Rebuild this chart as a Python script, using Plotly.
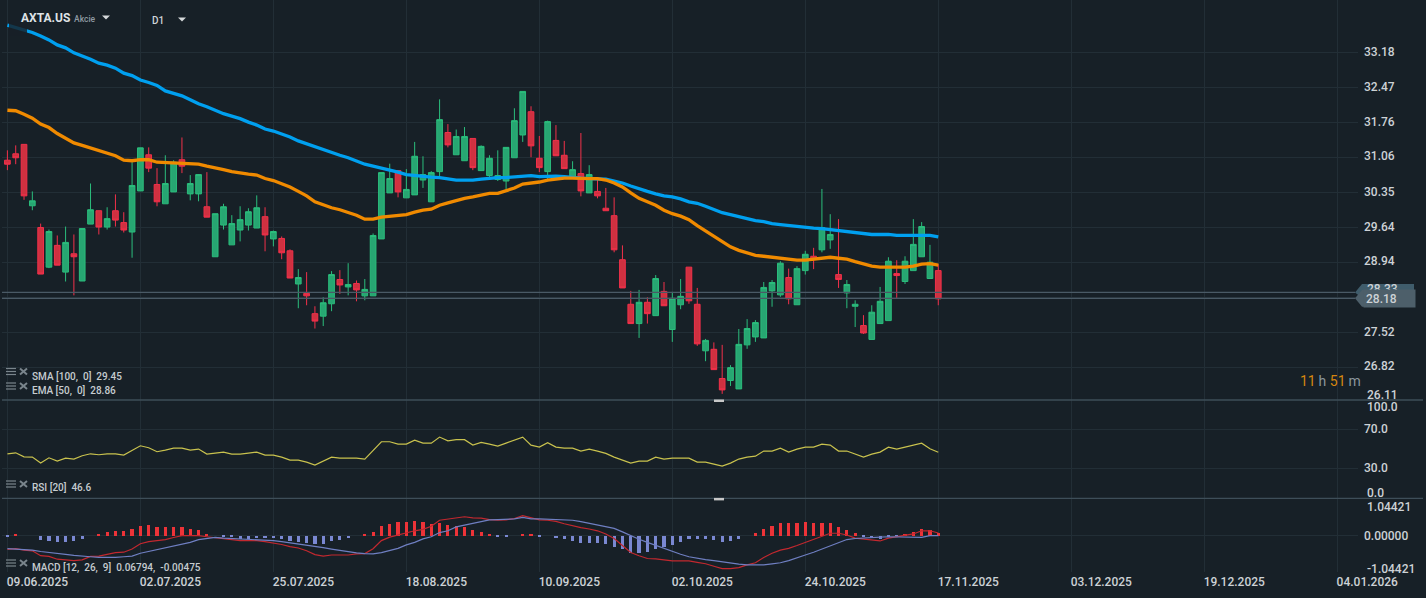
import plotly.graph_objects as go

# ---- data ----
OPEN = [31.00,31.13,31.32,30.08,29.64,28.84,29.28,28.74,29.11,28.56,
29.71,29.98,29.65,29.98,29.74,29.55,30.38,31.11,30.51,30.12,
30.36,31.01,30.32,30.32,30.06,29.05,29.69,29.29,29.59,29.69,
29.63,29.86,29.41,29.42,29.17,28.50,28.31,27.90,27.85,28.10,
28.59,28.44,28.51,28.26,28.26,29.41,30.34,30.79,30.24,30.30,
30.60,30.16,30.77,31.56,31.11,30.99,31.44,30.79,30.69,30.61,
30.58,31.05,31.51,31.98,31.04,30.77,31.40,31.10,30.65,30.73,
30.34,30.37,30.03,29.88,28.99,28.09,27.70,28.13,27.86,28.35,
27.58,28.08,28.84,28.09,27.15,27.18,26.59,26.55,26.38,27.27,
27.43,27.41,28.36,28.28,28.63,28.08,28.77,29.06,29.19,29.39,
28.69,28.32,28.05,27.66,27.38,27.70,27.76,28.71,28.55,28.77,
29.05,28.61,28.77]
HIGH = [31.20,31.30,31.32,30.37,29.72,29.60,29.48,29.66,29.50,29.62,
30.53,29.98,30.05,30.31,29.95,30.96,31.25,31.26,30.84,31.10,
31.00,31.46,30.70,30.72,30.76,29.92,30.12,29.89,30.07,30.03,
30.29,30.05,29.58,29.46,29.20,28.80,28.74,28.05,28.23,28.76,
28.78,28.92,28.57,28.60,29.52,30.75,30.93,30.80,30.82,31.37,
31.08,30.78,32.23,31.73,31.62,31.67,31.44,31.30,31.10,31.20,
31.26,32.05,32.39,32.09,31.49,31.80,31.71,31.39,30.98,31.55,
30.90,30.64,30.44,30.25,29.28,28.36,28.38,28.23,28.68,28.54,
28.34,28.60,28.84,28.42,27.39,27.32,27.27,26.86,27.59,27.79,
27.77,28.54,28.58,28.96,28.81,28.86,29.17,29.23,30.42,29.91,
29.81,28.58,28.17,27.87,28.07,28.44,29.04,28.98,29.06,29.81,
29.75,29.29,28.90]
LOW = [30.80,30.92,30.20,29.99,28.70,28.82,28.88,28.55,28.27,28.56,
29.71,29.50,29.60,29.66,29.54,29.03,30.38,30.76,30.07,30.12,
30.36,30.74,30.19,30.17,29.85,29.05,29.60,29.29,29.36,29.58,
29.63,29.16,29.26,29.00,28.62,28.01,28.07,27.60,27.65,27.95,
28.30,28.27,28.15,28.17,28.26,29.41,30.34,30.25,30.24,30.30,
30.44,30.16,30.68,31.26,31.11,30.99,30.80,30.79,30.60,30.58,
30.41,31.05,31.37,31.06,30.76,30.62,31.09,30.83,30.63,30.27,
30.34,30.23,29.98,29.14,28.42,27.70,27.41,27.70,27.86,28.06,
27.33,27.99,28.10,27.25,26.94,26.77,26.28,26.44,26.38,27.19,
27.33,27.41,28.04,28.24,28.09,28.08,28.69,28.80,29.14,29.21,
28.42,28.01,27.63,27.49,27.38,27.70,27.76,28.22,28.50,28.77,
29.05,28.61,28.07]
CLOSE = [30.92,31.05,30.28,30.18,28.70,29.56,28.88,29.34,29.05,29.62,
30.00,29.65,29.82,29.79,29.59,30.49,31.25,30.84,30.16,30.53,
30.96,30.88,30.53,30.71,29.85,29.92,30.06,29.72,29.80,29.96,
30.04,29.49,29.56,29.13,28.62,28.63,28.26,27.75,28.12,28.69,
28.48,28.49,28.38,28.39,29.48,30.75,30.63,30.36,30.41,31.08,
30.71,30.75,31.82,31.31,31.48,31.48,30.85,31.28,31.04,30.69,
31.26,31.80,32.39,31.29,30.85,31.78,31.09,30.83,30.81,30.38,
30.71,30.28,29.98,29.19,28.42,27.70,28.13,27.90,28.61,28.06,
28.21,28.25,28.16,27.29,27.36,26.77,26.36,26.81,27.28,27.60,
27.72,28.43,28.53,28.92,28.20,28.81,29.10,29.00,29.64,29.50,
28.59,28.49,28.09,27.51,27.93,28.15,28.96,28.67,28.96,29.30,
29.66,28.94,28.20]
SMA = [33.73,33.68,33.63,33.58,33.51,33.43,33.33,33.27,33.17,33.11,
33.04,32.96,32.92,32.86,32.76,32.71,32.62,32.57,32.51,32.40,
32.35,32.30,32.22,32.14,32.08,32.01,31.94,31.89,31.84,31.77,
31.71,31.63,31.59,31.53,31.47,31.39,31.33,31.27,31.21,31.16,
31.10,31.05,30.99,30.92,30.88,30.84,30.81,30.76,30.71,30.69,
30.67,30.66,30.65,30.62,30.60,30.60,30.60,30.62,30.64,30.65,
30.65,30.66,30.68,30.69,30.67,30.68,30.68,30.67,30.65,30.64,
30.63,30.63,30.62,30.58,30.54,30.48,30.42,30.37,30.32,30.28,
30.26,30.22,30.16,30.13,30.07,30.00,29.94,29.90,29.86,29.81,
29.78,29.76,29.72,29.70,29.68,29.66,29.64,29.63,29.62,29.60,
29.57,29.55,29.54,29.52,29.50,29.50,29.50,29.48,29.48,29.48,
29.48,29.48,29.45]
EMA = [32.01,32.00,31.93,31.85,31.73,31.66,31.54,31.44,31.35,31.30,
31.25,31.20,31.15,31.09,31.00,30.99,31.01,31.01,30.96,30.95,
30.95,30.93,30.92,30.92,30.88,30.85,30.81,30.77,30.74,30.72,
30.70,30.63,30.59,30.53,30.46,30.37,30.28,30.16,30.10,30.04,
30.00,29.95,29.89,29.81,29.81,29.85,29.87,29.88,29.90,29.95,
29.99,30.01,30.09,30.14,30.19,30.23,30.26,30.29,30.33,30.33,
30.38,30.44,30.52,30.54,30.56,30.60,30.62,30.64,30.64,30.63,
30.63,30.63,30.60,30.54,30.46,30.34,30.23,30.16,30.09,29.99,
29.92,29.87,29.80,29.68,29.57,29.45,29.35,29.25,29.18,29.13,
29.08,29.06,29.04,29.02,29.00,28.98,28.98,29.00,29.02,29.04,
29.02,29.00,28.95,28.90,28.86,28.84,28.84,28.84,28.84,28.86,
28.90,28.91,28.88]
RSI = [45.0,46.0,41.9,41.6,35.5,40.9,37.5,40.6,39.6,43.0,
45.0,44.0,45.0,45.0,43.7,48.4,53.2,51.2,47.1,48.8,
50.8,50.8,48.8,49.8,44.7,45.7,46.7,44.7,44.7,45.7,
46.7,43.7,43.7,41.6,38.5,38.5,36.5,33.4,37.5,41.6,
40.6,40.6,40.6,39.6,48.8,57.3,57.3,54.9,54.9,59.0,
55.9,55.9,62.1,58.3,59.4,59.4,53.9,56.6,54.9,52.9,
55.9,59.0,62.1,53.9,51.8,56.3,51.8,50.8,50.8,47.8,
49.8,47.8,45.4,41.6,38.5,35.5,37.5,37.5,41.6,39.6,
40.6,40.6,40.6,36.5,36.5,34.4,32.4,35.5,39.6,41.6,
42.6,47.8,47.8,50.8,46.7,49.8,51.8,51.8,54.9,53.9,
47.8,47.8,44.7,41.6,44.7,46.7,51.8,49.8,51.8,53.9,
55.9,50.1,46.6]
MACD = [-.40,-.38,-.42,-.44,-.58,-.60,-.68,-.70,-.72,-.70,
-.60,-.59,-.55,-.49,-.48,-.39,-.24,-.18,-.15,-.12,
-.06,-.01,-.01,-.01,-.04,-.07,-.09,-.12,-.15,-.15,
-.15,-.18,-.21,-.26,-.32,-.36,-.44,-.55,-.59,-.56,
-.56,-.56,-.53,-.52,-.38,-.15,-.05,.01,.08,.13,
.17,.26,.43,.47,.50,.53,.50,.49,.45,.43,
.44,.48,.56,.50,.44,.43,.40,.33,.27,.22,
.18,.13,.04,-.09,-.29,-.49,-.58,-.66,-.67,-.70,
-.73,-.73,-.73,-.77,-.81,-.88,-.95,-.95,-.92,-.84,
-.78,-.63,-.51,-.42,-.37,-.29,-.20,-.11,-.02,.06,
.06,.01,-.08,-.11,-.14,-.16,-.08,-.04,-.02,.04,
.13,.13,.068]
SIGNAL = [-.38,-.39,-.41,-.42,-.46,-.48,-.51,-.54,-.57,-.60,
-.61,-.63,-.64,-.63,-.61,-.59,-.51,-.46,-.41,-.36,
-.30,-.26,-.20,-.12,-.09,-.06,-.08,-.09,-.10,-.10,
-.11,-.12,-.15,-.18,-.21,-.24,-.27,-.32,-.35,-.39,
-.43,-.47,-.50,-.52,-.53,-.49,-.44,-.37,-.27,-.20,
-.10,-.04,.08,.13,.24,.29,.35,.41,.44,.45,
.46,.47,.51,.47,.47,.46,.46,.44,.43,.39,
.34,.29,.25,.20,.10,-.01,-.11,-.20,-.29,-.37,
-.46,-.54,-.61,-.66,-.69,-.72,-.76,-.80,-.82,-.84,
-.84,-.84,-.81,-.78,-.72,-.63,-.56,-.48,-.39,-.29,
-.19,-.12,-.09,-.07,-.06,-.05,-.04,-.04,-.04,-.05,
-.06,-.01,-.005]
HIST = [-.02,.02,0,0,-.12,-.15,-.18,-.18,-.15,-.09,
0,.05,.10,.13,.13,.19,.27,.30,.25,.25,
.25,.25,.19,.16,.05,0,-.03,-.04,-.09,-.09,
-.07,-.07,-.07,-.09,-.15,-.18,-.21,-.24,-.24,-.15,
-.12,-.07,0,.02,.10,.27,.33,.39,.39,.42,
.39,.33,.36,.30,.27,.25,.16,.09,.05,-.02,
-.02,0,.05,.02,-.02,0,-.08,-.09,-.15,-.21,
-.21,-.21,-.24,-.32,-.38,-.49,-.49,-.46,-.38,-.32,
-.26,-.18,-.09,-.09,-.09,-.12,-.18,-.15,-.09,0,
.08,.19,.27,.36,.36,.36,.39,.36,.36,.36,
.25,.16,.08,-.04,-.08,-.09,-.04,-.01,.05,.10,
.19,.16,.07]
for arr in (OPEN, HIGH, LOW, CLOSE, SMA, EMA, RSI, MACD, SIGNAL, HIST):
    assert len(arr) == 113, len(arr)

BAR = list(range(113))
DATE_TICK_BARS = [0, 16, 32, 48, 64, 80, 96, 112, 128, 144, 160]
DATE_LABELS = ["09.06.2025", "02.07.2025", "25.07.2025", "18.08.2025", "10.09.2025", "02.10.2025",
               "24.10.2025", "17.11.2025", "03.12.2025", "19.12.2025", "04.01.2026"]
PRICE_TICKS = [33.18, 32.47, 31.76, 31.06, 30.35, 29.64, 28.94, 28.23, 27.52, 26.82]
RSI_TICKS = [100, 70, 30, 0]
MACD_TICKS = [1.04421, 0, -1.04421]
PRICE_LINES = [28.33, 28.21]

# ---- style ----
BG = "#172027"
GRID = "#222e36"
TXT = "#cdd2d6"
W, H = 1426, 598
L, R, B = 2, 68, 26
PW, PH = W - L - R, H - B

def xp(x):
    return (x - L) / PW

def yp(y):
    return (PH - y) / PH

fig = go.Figure()
fig.add_trace(go.Candlestick(
    x=BAR, open=OPEN, high=HIGH, low=LOW, close=CLOSE, xaxis="x", yaxis="y", whiskerwidth=0,
    increasing=dict(line=dict(color="#2bbd7c", width=1), fillcolor="#27a672"),
    decreasing=dict(line=dict(color="#f2304a", width=1), fillcolor="#cf3140"),
    showlegend=False))
fig.add_trace(go.Scatter(x=BAR, y=SMA, mode="lines", line=dict(color="#00a0f0", width=3.3), xaxis="x", yaxis="y", showlegend=False))
fig.add_trace(go.Scatter(x=BAR, y=EMA, mode="lines", line=dict(color="#f08a00", width=3.3), xaxis="x", yaxis="y", showlegend=False))
fig.add_trace(go.Scatter(x=BAR, y=RSI, mode="lines", line=dict(color="#c9c24e", width=1.2), xaxis="x2", yaxis="y2", showlegend=False))
fig.add_trace(go.Bar(x=BAR, y=HIST, width=0.38, xaxis="x3", yaxis="y3", showlegend=False,
                     marker=dict(color=["#ed3338" if v > 0 else "#7a88d2" for v in HIST], line=dict(width=0))))
fig.add_trace(go.Scatter(x=BAR, y=MACD, mode="lines", line=dict(color="#c2282f", width=1.2), xaxis="x3", yaxis="y3", showlegend=False))
fig.add_trace(go.Scatter(x=BAR, y=SIGNAL, mode="lines", line=dict(color="#6f7fc2", width=1.2), xaxis="x3", yaxis="y3", showlegend=False))

x_range = [-0.65, 162.5]
xbase = dict(range=x_range, tickmode="array", tickvals=DATE_TICK_BARS, showgrid=True, gridcolor=GRID, gridwidth=1,
             zeroline=False, showline=False, ticks="", fixedrange=True)
ybase = dict(side="right", showgrid=True, gridcolor=GRID, gridwidth=1, zeroline=False, showline=False, ticks="",
             tickmode="array", tickfont=dict(family="Roboto", size=12, color=TXT, weight=500),
             ticklabelstandoff=5, fixedrange=True)

annotations = []

def label(x, y, text, size=12, color=TXT, family="Roboto", weight=None, **kw):
    f = dict(family=family, size=size, color=color)
    if weight:
        f["weight"] = weight
    annotations.append(dict(xref="paper", yref="paper", x=xp(x), y=yp(y), text=text, showarrow=False,
                            xanchor="left", yanchor="middle", font=f, borderpad=0, **kw))

# right-hand labels pushed inward at the pane edges
label(1366, 395, "26.11", weight=500)
label(1366, 407, "100.0", weight=500)
label(1366, 493, "0.0", weight=500)
label(1366, 506.5, "1.04421", weight=500)
label(1366, 568.5, "-1.04421", weight=500)
# price tags
label(1366, 289, "28.33", weight=500)
label(1363, 298.4, "28.18", weight=500, bgcolor="#4d5f6a", width=47, height=13, align="left")
annotations[-1]["borderpad"] = 2
# header
label(20, 18, "AXTA.US", size=12, color="#dfe3e6", weight=700)
label(73, 19, "Akcie", size=8.5, color="#8e9aa2", weight=500)
label(151, 20, "D1", size=10, color="#cfd4d8", weight=500)
# indicator legends
for ytxt, txt in ((376.5, "SMA [100,&nbsp;&nbsp;0]&nbsp;&nbsp;29.45"), (390.5, "EMA [50,&nbsp;&nbsp;0]&nbsp;&nbsp;28.86"),
                  (488.5, "RSI [20]&nbsp;&nbsp;46.6"), (567.5, "MACD [12,&nbsp;&nbsp;26,&nbsp;&nbsp;9]&nbsp;&nbsp;0.06794,&nbsp;&nbsp;-0.00475")):
    label(30.5, ytxt, txt, size=10, color="#c6ccd0", weight=500)
# countdown
label(1299, 381, '<span style="color:#d5860f">11</span>&#8201;h <span style="color:#d5860f">51</span>&#8201;m',
      size=14, color="#8b969d")

shapes = []
for p in PRICE_LINES:
    shapes.append(dict(type="line", xref="paper", yref="y", x0=0, x1=xp(1355), y0=p, y1=p,
                       line=dict(color="#4a5a66", width=1.3)))
# pane separators
for ysep in (400, 498.4):
    shapes.append(dict(type="line", xref="paper", yref="paper", x0=0, x1=xp(1423), y0=yp(ysep), y1=yp(ysep),
                       line=dict(color="#3e4e59", width=1.3)))
    shapes.append(dict(type="rect", xref="paper", yref="paper", x0=xp(714), x1=xp(724), y0=yp(ysep - 0.5), y1=yp(ysep + 2),
                       fillcolor="#c8c8c8", line=dict(width=0)))

def poly(points):
    return "M" + " L".join(f"{xp(a):.5f},{yp(b):.5f}" for a, b in points) + " Z"

# price tags with notches, header triangles, legend icons
shapes.append(dict(type="path", xref="paper", yref="paper", path=poly([(1355, 292.5), (1362, 284), (1414, 284), (1414, 298), (1362, 298)]),
                   fillcolor="#3f5c6b", line=dict(width=0)))
shapes.append(dict(type="path", xref="paper", yref="paper", path=poly([(1355, 298.3), (1362, 290), (1414, 290), (1414, 306.7), (1362, 306.7)]),
                   fillcolor="#4d5f6a", line=dict(width=0)))
for tx, ty in ((106, 15.5), (182, 17.5)):
    shapes.append(dict(type="path", xref="paper", yref="paper", path=poly([(tx - 4, ty), (tx + 4, ty), (tx, ty + 4)]),
                       fillcolor="#d5d8da", line=dict(width=0)))
# line start fades under the header
shapes.append(dict(type="rect", xref="paper", yref="paper", x0=xp(9), x1=xp(27), y0=yp(36), y1=yp(20),
                   fillcolor=BG, opacity=0.82, line=dict(width=0)))
for yi in (371.5, 386, 484, 563):
    for k, dy in enumerate((-3, 0, 3)):
        shapes.append(dict(type="line", xref="paper", yref="paper", x0=xp(6), x1=xp(16), y0=yp(yi + dy), y1=yp(yi + dy),
                           line=dict(color="#7a858c", width=1.2)))
    shapes.append(dict(type="line", xref="paper", yref="paper", x0=xp(20), x1=xp(27), y0=yp(yi - 3), y1=yp(yi + 3), line=dict(color="#7a858c", width=2)))
    shapes.append(dict(type="line", xref="paper", yref="paper", x0=xp(20), x1=xp(27), y0=yp(yi + 3), y1=yp(yi - 3), line=dict(color="#7a858c", width=2)))

fig.update_layout(
    width=W, height=H, autosize=False, paper_bgcolor=BG, plot_bgcolor=BG, showlegend=False,
    margin=dict(l=L, r=R, t=0, b=B, pad=0), boxgap=0.24, boxgroupgap=0.1, bargap=0, hovermode=False, dragmode=False,
    xaxis=dict(xbase, anchor="y", domain=[0, 1], showticklabels=False, rangeslider=dict(visible=False)),
    xaxis2=dict(xbase, anchor="y2", domain=[0, 1], showticklabels=False),
    xaxis3=dict(xbase, anchor="y3", domain=[0, 1], ticktext=DATE_LABELS, ticklabelshift=30, ticklabelstandoff=1,
                tickfont=dict(family="Roboto", size=12, color=TXT, weight=500)),
    yaxis=dict(ybase, anchor="x", domain=[yp(400), 1], range=[26.156, 34.237], tickvals=PRICE_TICKS,
               ticktext=[f"{v:.2f}" for v in PRICE_TICKS], ticklabelshift=-1),
    yaxis2=dict(ybase, anchor="x2", domain=[yp(497.8), yp(400)], range=[0, 100], tickvals=RSI_TICKS,
                ticktext=["", "70.0", "30.0", ""], ticklabelshift=-1),
    yaxis3=dict(ybase, anchor="x3", domain=[0, yp(498.7)], range=[-1.04421, 1.04421], tickvals=MACD_TICKS,
                ticktext=["", "0.00000", ""]),
    annotations=annotations, shapes=shapes,
)

fig.write_html("out.html", config={"displayModeBar": False},
               post_script="document.body.style.margin='0';document.body.style.background='%s';document.body.style.overflow='hidden';" % BG)
